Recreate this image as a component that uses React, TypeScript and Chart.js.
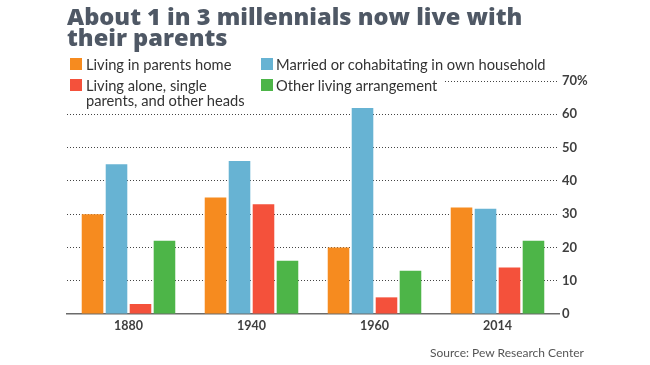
import React, { useEffect, useRef } from "react";
import { Chart, registerables } from "chart.js";

Chart.register(...registerables);

const categories = ["1880", "1940", "1960", "2014"];
const seriesNames = [
  "Living in parents home",
  "Married or cohabitating in own household",
  "Living alone, single parents, and other heads",
  "Other living arrangement",
];
const livingInParentsHome = [30, 35, 20, 32];
const marriedOrCohabitating = [45, 46, 62, 31.6];
const livingAloneSingleParents = [3, 33, 5, 14];
const otherArrangement = [22, 16, 13, 22];
const seriesColors = ["#F68B1F", "#67B3D3", "#F4513B", "#4DB548"];
const yTicks = [0, 10, 20, 30, 40, 50, 60, 70];

const titleLines = ["About 1 in 3 millennials now live with", "their parents"];
const sourceText = "Source: Pew Research Center";

export default function App() {
  const canvasRef = useRef<HTMLCanvasElement | null>(null);

  useEffect(() => {
    const canvas = canvasRef.current;
    if (!canvas) return;
    const values = [livingInParentsHome, marriedOrCohabitating, livingAloneSingleParents, otherArrangement];
    const chart = new Chart(canvas, {
      type: "bar",
      data: {
        labels: categories,
        datasets: values.map((v, i) => ({
          label: seriesNames[i],
          data: v,
          backgroundColor: seriesColors[i],
          borderWidth: 0,
          categoryPercentage: 0.78,
          barPercentage: 0.9,
        })),
      },
      options: {
        animation: false,
        responsive: false,
        maintainAspectRatio: false,
        layout: { padding: { left: 67, top: 81, right: 0, bottom: 0 } },
        plugins: { legend: { display: false }, title: { display: false }, tooltip: { enabled: false } },
        scales: {
          x: {
            grid: { display: false, drawTicks: false },
            border: { display: true, color: "#6b6b6b", width: 1.5 },
            ticks: { color: "#3f3f3f", font: { family: "Lato", size: 12.5, weight: "bold" }, padding: 4 },
            afterFit: (s: any) => { s.height = 51; },
          },
          y: {
            position: "right",
            min: 0,
            max: 70,
            afterBuildTicks: (s: any) => { s.ticks = yTicks.map((v) => ({ value: v })); },
            grid: {
              drawTicks: false,
              color: (ctx: any) => (ctx.tick && ctx.tick.value === 0 ? "rgba(0,0,0,0)" : "#444"),
              lineWidth: 1,
            },
            border: { display: false, dash: [1, 2] },
            ticks: {
              color: "#3f3f3f",
              font: { family: "Lato", size: 13, weight: "bold" },
              padding: 3,
              callback: (v: any) => (v === 70 ? "70%" : String(v)),
            },
            afterFit: (s: any) => { s.width = 91; },
          },
        },
      },
    });
    return () => chart.destroy();
  }, []);

  const sq = (left: number, top: number, color: string): React.CSSProperties => ({
    position: "absolute", left, top, width: 12, height: 12, background: color,
  });
  const txt = (left: number, top: number): React.CSSProperties => ({
    position: "absolute", left, top, fontFamily: "Lato", fontSize: 14.7, lineHeight: "14.5px", color: "#333", whiteSpace: "nowrap",
  });

  return (
    <div style={{ position: "fixed", left: 0, top: 0, width: 650, height: 365, background: "#fff", overflow: "hidden" }}>
      <canvas ref={canvasRef} width={650} height={365} style={{ position: "absolute", left: 0, top: 0 }} />
      <div style={{ position: "absolute", left: 67, top: 6, fontFamily: "'Open Sans'", fontWeight: 800, fontSize: 23.6, lineHeight: "21px", color: "#4F5865", whiteSpace: "nowrap" }}>
        <div>{titleLines[0]}</div>
        <div>{titleLines[1]}</div>
      </div>
      <div style={{ position: "absolute", left: 66, top: 56, width: 378, height: 52, background: "#fff" }} />
      <div style={sq(70, 58, seriesColors[0])} />
      <div style={txt(86, 57)}>{seriesNames[0]}</div>
      <div style={sq(261, 58, seriesColors[1])} />
      <div style={txt(276, 57)}>{seriesNames[1]}</div>
      <div style={sq(70, 79, seriesColors[2])} />
      <div style={txt(86, 78)}>Living alone, single<br />parents, and other heads</div>
      <div style={sq(261, 79, seriesColors[3])} />
      <div style={txt(276, 78)}>{seriesNames[3]}</div>
      <div style={{ position: "absolute", left: 430, top: 345, fontFamily: "Lato", fontSize: 12, color: "#555", whiteSpace: "nowrap" }}>{sourceText}</div>
    </div>
  );
}
